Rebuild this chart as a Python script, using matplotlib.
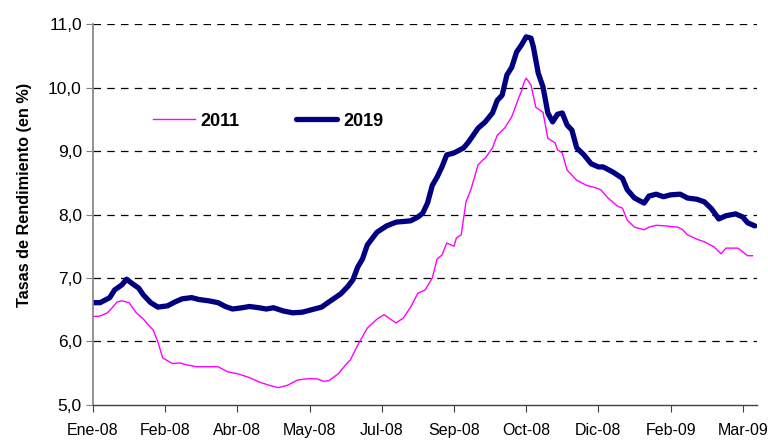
import matplotlib
matplotlib.use('Agg')
import matplotlib.pyplot as plt

plt.rcParams['font.family'] = ['Liberation Sans', 'DejaVu Sans']

# Datos (indice de dia habil, tasa en %)
dias_2011 = [0, 3, 6, 8, 10, 12, 15, 18, 21, 23, 25, 27, 29, 33, 36, 39, 43, 52, 56, 60,
             65, 69, 73, 77, 81, 85, 89, 93, 96, 98, 102, 105, 107, 110, 114, 118, 121, 124,
             126, 129, 132, 135, 138, 141, 143, 145, 147, 150, 151, 153, 155, 157, 160, 162,
             163, 166, 168, 171, 174, 177, 178, 179, 180, 182, 184, 187, 189, 192, 193, 195,
             197, 201, 205, 209, 211, 214, 218, 220, 222, 225, 229, 231, 234, 238, 243, 245,
             247, 251, 254, 258, 261, 263, 268, 272, 274]
tasa_2011 = [6.39, 6.40, 6.45, 6.53, 6.62, 6.64, 6.61, 6.45, 6.35, 6.26, 6.18, 5.99, 5.74,
             5.65, 5.66, 5.63, 5.60, 5.60, 5.52, 5.49, 5.43, 5.36, 5.31, 5.27, 5.31, 5.39,
             5.41, 5.41, 5.37, 5.38, 5.49, 5.63, 5.71, 5.94, 6.21, 6.35, 6.42, 6.34, 6.29,
             6.37, 6.54, 6.76, 6.81, 7.00, 7.30, 7.36, 7.55, 7.50, 7.63, 7.68, 8.20, 8.39,
             8.78, 8.86, 8.89, 9.05, 9.25, 9.36, 9.54, 9.85, 9.94, 10.07, 10.15, 10.04, 9.69,
             9.61, 9.20, 9.13, 9.02, 8.97, 8.70, 8.54, 8.46, 8.42, 8.39, 8.26, 8.13, 8.10,
             7.91, 7.80, 7.76, 7.80, 7.83, 7.82, 7.80, 7.76, 7.68, 7.61, 7.57, 7.49, 7.38,
             7.47, 7.47, 7.35, 7.35]

dias_2019 = [0, 3, 7, 9, 12, 14, 16, 19, 21, 24, 27, 31, 34, 37, 41, 44, 48, 52, 55, 58,
             62, 65, 69, 72, 75, 79, 83, 87, 91, 95, 98, 103, 106, 108, 110, 112, 114, 118,
             122, 126, 132, 135, 137, 139, 141, 143, 145, 147, 150, 154, 156, 160, 163, 166,
             168, 170, 172, 174, 176, 178, 180, 182, 183, 185, 187, 189, 191, 193, 195, 197,
             199, 201, 204, 207, 210, 212, 216, 220, 222, 225, 229, 231, 234, 237, 240, 244,
             247, 251, 254, 257, 260, 263, 267, 270, 272, 275]
tasa_2019 = [6.61, 6.61, 6.69, 6.81, 6.89, 6.98, 6.92, 6.84, 6.73, 6.61, 6.54, 6.56, 6.62,
             6.67, 6.69, 6.66, 6.64, 6.61, 6.55, 6.51, 6.53, 6.55, 6.53, 6.51, 6.53, 6.48,
             6.45, 6.46, 6.50, 6.54, 6.62, 6.75, 6.87, 6.97, 7.17, 7.30, 7.52, 7.72, 7.82,
             7.88, 7.90, 7.96, 8.02, 8.18, 8.46, 8.59, 8.75, 8.94, 8.97, 9.05, 9.14, 9.36,
             9.46, 9.60, 9.80, 9.88, 10.20, 10.32, 10.56, 10.67, 10.80, 10.78, 10.64, 10.23,
             10.01, 9.60, 9.46, 9.58, 9.60, 9.41, 9.33, 9.05, 8.94, 8.80, 8.75, 8.75, 8.67,
             8.57, 8.39, 8.26, 8.18, 8.29, 8.32, 8.28, 8.31, 8.32, 8.26, 8.24, 8.20, 8.09,
             7.93, 7.98, 8.01, 7.96, 7.87, 7.82]

etiquetas_x = ['Ene-08', 'Feb-08', 'Abr-08', 'May-08', 'Jul-08', 'Sep-08', 'Oct-08',
               'Dic-08', 'Feb-09', 'Mar-09']
paso_ticks = 30
valores_y = [5, 6, 7, 8, 9, 10, 11]

fig = plt.figure(figsize=(7.68, 4.4), dpi=100)
ax = fig.add_axes([0.121, 0.080, 0.865, 0.865])

ax.plot(dias_2011, tasa_2011, color='#FF00FF', lw=1.0, label='2011')
ax.plot(dias_2019, tasa_2019, color='#000080', lw=3.8, label='2019', solid_capstyle='round')

ax.set_ylim(5, 11)
ax.set_xlim(0, 276)
ax.set_yticks(valores_y)
ax.set_yticklabels([f'{v:.1f}'.replace('.', ',') for v in valores_y])
ax.set_xticks([i * paso_ticks for i in range(len(etiquetas_x))])
ax.set_xticklabels(etiquetas_x)

# lineas de rejilla discontinuas
for v in valores_y[1:]:
    ax.axhline(v, color='black', lw=0.9, dashes=(6, 5), zorder=0)

for s in ['top', 'right']:
    ax.spines[s].set_visible(False)
ax.spines['left'].set_color('#808080')
ax.spines['bottom'].set_color('#404040')
ax.spines['left'].set_linewidth(1.2)
ax.spines['bottom'].set_linewidth(1.0)

ax.tick_params(axis='y', length=5, color='#808080', labelsize=12.5, pad=3)
ax.tick_params(axis='x', length=5, color='#404040', labelsize=11.5, pad=8)

ax.set_ylabel('Tasas de Rendimiento (en %)', fontsize=11.7, fontweight='bold')
ax.yaxis.set_label_coords(-0.092, 0.551)

ax.legend(loc='center left', bbox_to_anchor=(0.077, 0.745), ncol=2, frameon=False,
          handlelength=2.3, handletextpad=0.33, columnspacing=3.1, borderpad=0,
          prop={'weight': 'bold', 'size': 13})

fig.savefig('out.png', dpi=100)
